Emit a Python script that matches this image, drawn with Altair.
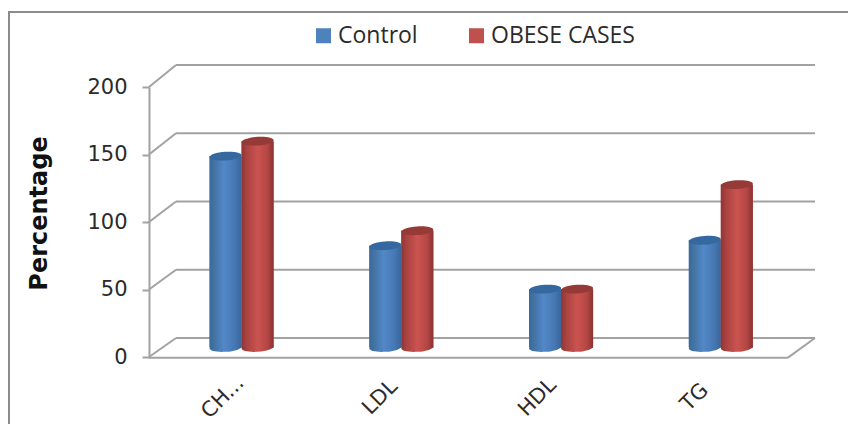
import altair as alt
import pandas as pd

categories = ["CH...", "LDL", "HDL", "TG"]
control = [141, 75, 43, 79]
obese = [152, 86, 43, 120]
series_names = ["Control", "OBESE CASES"]
series_colors = ["#4F81BD", "#C0504D"]
grid_values = [0, 50, 100, 150, 200]

# Depth of the pseudo-3D box, in data units of the two axes
DX = 27 / 159.75
DY0 = 14.07
PERSP = 1.011
BAR = 32 / 159.75
SHIFT = 16 / 159.75
FONT = "DejaVu Sans"
LEGEND_FONT = "Open Sans"
GRID = "#A2A2A2"
TEXT = "#2b2b2b"

rows = []
for i, c in enumerate(categories):
    for j, (name, vals) in enumerate(zip(series_names, (control, obese))):
        xc = i + 0.5 + DX / 2 + (j - 0.5) * 2 * SHIFT - 0.005
        rows.append(dict(cat=c, series=name, value=vals[i], xc=xc,
                         x0=xc - BAR / 2, x1=xc + BAR / 2,
                         base=DY0 / 2, top=vals[i] * (1 + (PERSP - 1) / 2) + DY0 / 2))
bars = pd.DataFrame(rows)
grid = pd.DataFrame({"v": grid_values})
grid["back"] = grid["v"] * PERSP + DY0
grid["x0"] = DX
grid["x1"] = 4 + DX
grid["left"] = 0.0
labels = pd.DataFrame({"cat": categories, "i": range(len(categories))})
labels["x"] = (74 + 157.3 * labels["i"]) / 159.75
labels["y"] = -30
floor_front = pd.DataFrame({"x0": [0.0], "x1": [4.0], "y": [-0.5]})
floor_right = pd.DataFrame({"x0": [4.0], "x1": [4 + DX], "y0": [-0.5], "y1": [DY0]})

xs = alt.Scale(domain=[0, 4], nice=False, zero=False)
ys = alt.Scale(domain=[0, 200], nice=False)
y_axis = alt.Axis(
    values=grid_values, title="Percentage", grid=False,
    domainColor=GRID, domainWidth=2, tickColor=GRID, tickWidth=2, tickSize=7,
    labelFont=FONT, labelFontSize=21, labelColor=TEXT, labelPadding=15,
    titleFont=FONT, titleFontSize=24, titleFontWeight="bold", titleColor="#111111",
    titleX=-110, titleY=126, titleAngle=-90, titleBaseline="middle", titleAlign="center")
X = lambda f: alt.X(f, type="quantitative", scale=xs, axis=None)
Y = lambda f: alt.Y(f, type="quantitative", scale=ys, axis=y_axis)

line = dict(color=GRID, strokeWidth=2)

back = alt.Chart(grid).mark_rule(**line).encode(x=X("x0"), x2="x1", y=Y("back"))
diag = alt.Chart(grid).mark_rule(**line).encode(x=X("left"), x2="x0", y=Y("v"), y2="back")
front = alt.Chart(floor_front).mark_rule(**line).encode(x=X("x0"), x2="x1", y=Y("y"))
right = alt.Chart(floor_right).mark_rule(**line).encode(x=X("x0"), x2="x1", y=Y("y0"), y2="y1")

frame_top = alt.Chart(grid.head(1)).mark_rule(color="#8c8c8c", strokeWidth=2).encode(
    x=alt.value(-141), x2=alt.value(699), y=alt.value(-75))
frame_left = alt.Chart(grid.head(1)).mark_rule(color="#8c8c8c", strokeWidth=2).encode(
    x=alt.value(-140), y=alt.value(-75), y2=alt.value(345))


def gradient(stops):
    return alt.Gradient(gradient="linear", x1=0, x2=1, y1=0, y2=0,
                        stops=[alt.GradientStop(offset=o, color=c) for o, c in stops])


styles = {
    "Control": dict(
        side=gradient([(0, "#3A689C"), (0.12, "#41719F"), (0.45, "#5288C9"), (0.8, "#4677B2"), (1, "#39659A")]),
        cap="#35689F"),
    "OBESE CASES": dict(
        side=gradient([(0, "#8E3533"), (0.15, "#A84240"), (0.5, "#CB5350"), (0.8, "#B54744"), (1, "#8A3331")]),
        cap="#963A38"),
}
cap_path = "M -1 0.07 A 1 0.27 -4 1 1 1 -0.07 A 1 0.27 -4 1 1 -1 0.07 Z"

bar_layers = []
for name in series_names:
    d = bars[bars["series"] == name]
    st = styles[name]
    flat = alt.Chart(d).mark_bar().encode(
        x=X("x0"), x2="x1", y=Y("base"), y2="top",
        color=alt.Color("series:N",
                        scale=alt.Scale(domain=series_names, range=series_colors),
                        legend=alt.Legend(
                            title=None, orient="none", legendX=163, legendY=-63,
                            direction="horizontal", columns=2, columnPadding=47,
                            symbolType="square", symbolSize=225, symbolStrokeWidth=0,
                            symbolOpacity=1, labelFont=LEGEND_FONT, labelFontSize=23,
                            labelColor=TEXT, labelOffset=3)),
    )
    side = alt.Chart(d).mark_bar(fill=st["side"]).encode(x=X("x0"), x2="x1", y=Y("base"), y2="top")
    bottom = alt.Chart(d).mark_point(shape=cap_path, filled=True, size=1024, opacity=1, fill=st["side"]).encode(
        x=X("xc"), y=Y("base"))
    cap = alt.Chart(d).mark_point(shape=cap_path, filled=True, size=1024, opacity=1, fill=st["cap"]).encode(
        x=X("xc"), y=Y("top"))
    bar_layers += [flat, bottom, side, cap]

text = alt.Chart(labels).mark_text(angle=315, font=FONT, fontSize=21, color=TEXT,
                                   align="center", baseline="middle").encode(
    x=X("x"), y=Y("y"), text="cat:N")

chart = alt.layer(back, diag, front, right, frame_top, frame_left, *bar_layers, text).properties(
    width=639, height=270,
    autosize=alt.AutoSizeParams(type="none"),
    padding={"left": 141, "top": 79, "right": 60, "bottom": 67},
).configure_view(stroke=None)

chart.save("out.html", embed_options={"renderer": "svg", "actions": False})
